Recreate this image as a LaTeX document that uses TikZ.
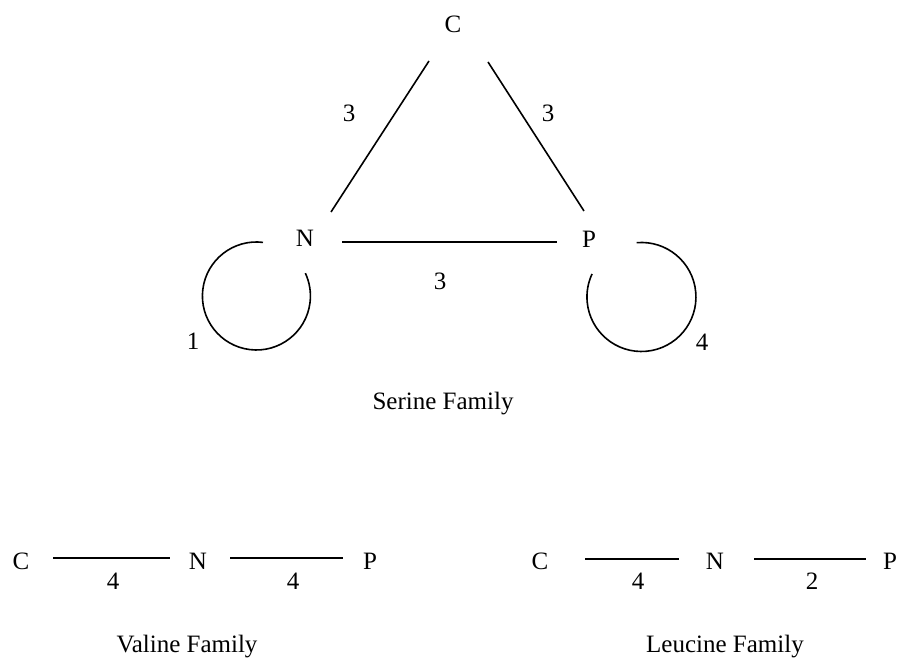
\documentclass[tikz,border=0pt]{standalone}
\usepackage{fontspec}
\setmainfont{Liberation Serif}
\begin{document}
\begin{tikzpicture}[x=1pt,y=1pt,
  lbl/.style={anchor=base,inner sep=0pt,font=\fontsize{25}{30}\selectfont},
  edge/.style={line width=1.6pt,black}]
\useasboundingbox (0,0) rectangle (900,658);
% Serine family
\node[lbl] (sC) at (453,625) {C};
\node[lbl] (sN) at (305,411) {N};
\node[lbl] (sP) at (589,410) {P};
\node[lbl] (lCN) at (349,536) {3};
\node[lbl] (lCP) at (548,536) {3};
\node[lbl] (lNP) at (440,368) {3};
\node[lbl] (lNN) at (193,308) {1};
\node[lbl] (lPP) at (702,307) {4};
\node[lbl] (serine) at (443,248) {Serine Family};
\draw[edge] ([shift={(-24,-28)}]sC.base) -- ([shift={(26,35)}]sN.base);
\draw[edge] ([shift={(35,-29)}]sC.base) -- ([shift={(-5,37)}]sP.base);
\draw[edge] ([shift={(37,5)}]sN.base) -- ([shift={(-32,6)}]sP.base);
\draw[edge] ([shift={(-42,4.6)}]sN.base) arc[start angle=83,end angle=385,radius=54];
\draw[edge] ([shift={(47.7,5.3)}]sP.base) arc[start angle=95,end angle=-205,radius=54.5];
% Valine family
\node[lbl] (vC) at (21,88) {C};
\node[lbl] (vN) at (198,88) {N};
\node[lbl] (vP) at (370,88) {P};
\node[lbl] (vCN) at (113,68) {4};
\node[lbl] (vNP) at (293,68) {4};
\node[lbl] (valine) at (187,5) {Valine Family};
\draw[edge] ([shift={(32,12)}]vC.base) -- ([shift={(-28,12)}]vN.base);
\draw[edge] ([shift={(32,12)}]vN.base) -- ([shift={(-27,12)}]vP.base);
% Leucine family
\node[lbl] (uC) at (540,88) {C};
\node[lbl] (uN) at (715,88) {N};
\node[lbl] (uP) at (890,88) {P};
\node[lbl] (uCN) at (638,68) {4};
\node[lbl] (uNP) at (812,68) {2};
\node[lbl] (leucine) at (725,5) {Leucine Family};
\draw[edge] ([shift={(45,11)}]uC.base) -- ([shift={(-36,11)}]uN.base);
\draw[edge] ([shift={(39,11)}]uN.base) -- ([shift={(-24,11)}]uP.base);
\end{tikzpicture}
\end{document}
